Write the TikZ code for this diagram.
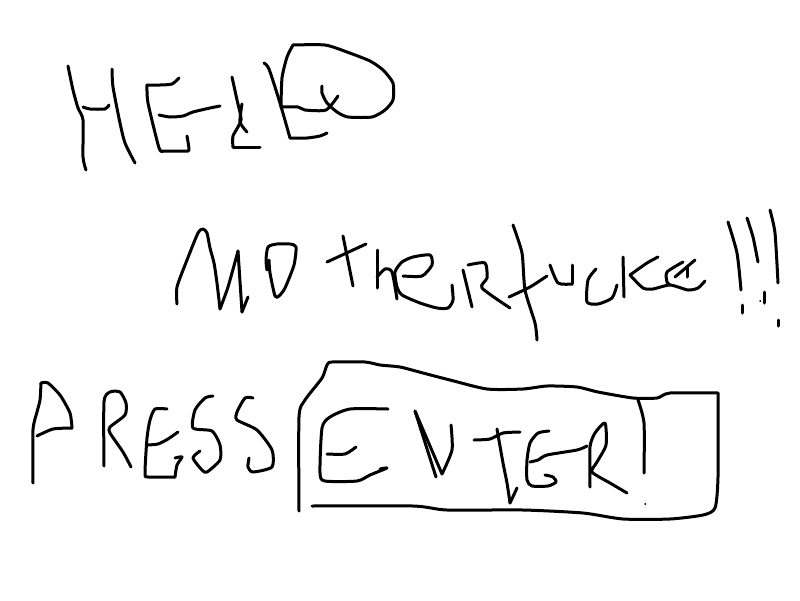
\documentclass[tikz,border=0pt]{standalone}
\tikzset{ink/.style={draw=black,line width=3pt,line cap=round,line join=round},
speck/.style={draw=black,line width=1.4pt,line cap=round}}
\newcommand{\stroke}[1]{\draw[ink] plot[smooth,tension=.4] coordinates {#1};}
\begin{document}
\begin{tikzpicture}[x=1pt,y=-1pt]
\useasboundingbox (0,0) rectangle (800,600);
\fill[white] (0,0) rectangle (800,600);
% HELP
\stroke{(68,66)(73,90)(78,108)(83,120)(83,157)(86,170)}
\stroke{(83,107)(90,109)(105,109)(109,105)}
\stroke{(112,69)(113,87)(120,123)(125,143)(135,163)}
\stroke{(179,78)(172,84)(160,85)(147,85)}
\stroke{(147,85)(148,103)(159,148)(163,151)}
\stroke{(163,151)(185,151)(189,150)(187,136)}
\stroke{(159,115)(170,117)(183,116)(193,112)(210,108)(220,106)}
\stroke{(232,77)(237,100)(241,120)(233,136)(233,147)}
\stroke{(233,147)(260,147)}
\stroke{(242,104)(240,122)(247,132)}
\stroke{(264,63)(269,69)(280,103)(290,138)}
\stroke{(290,138)(307,138)(320,136)(327,133)}
\stroke{(281,107)(282,78)(287,57)(293,45)}
\stroke{(293,45)(325,45)(347,52)(370,61)(383,70)(393,83)(393,100)(385,110)(372,117)(348,117)(337,112)(327,103)(322,93)(322,86)}
\stroke{(281,107)(298,107)(305,110)(326,110)(338,96)}
% Motherfucker
\stroke{(177,304)(177,287)(187,260)(198,233)(203,229)(207,233)(210,248)(214,263)(217,283)(220,309)}
\stroke{(220,309)(228,287)(238,251)}
\stroke{(238,251)(242,312)}
\stroke{(242,312)(248,297)}
\stroke{(267,270)(266,260)(268,247)(277,244)(290,244)(296,247)(294,265)(285,288)(279,296)(275,296)(270,273)(269,260)}
\stroke{(343,236)(353,286)}
\stroke{(327,262)(366,244)}
\stroke{(377,250)(377,288)}
\stroke{(377,277)(385,269)(392,272)(397,299)}
\stroke{(403,276)(422,276)(432,265)(430,255)(413,257)(402,262)(395,272)(397,287)(402,295)(420,303)(437,308)(448,308)(453,300)(452,285)}
\stroke{(463,270)(472,307)}
\stroke{(468,265)(485,263)(487,278)(482,288)(510,308)}
\stroke{(513,225)(522,253)(525,290)(535,323)(537,340)}
\stroke{(509,297)(530,287)(547,276)}
\stroke{(550,265)(558,283)(572,284)}
\stroke{(572,284)(572,265)}
\stroke{(596,269)(588,280)(587,302)(598,304)(612,298)(617,285)}
\stroke{(623,257)(624,297)}
\stroke{(658,257)(647,263)(630,275)}
\stroke{(630,275)(643,288)(653,289)(670,285)(688,290)(698,288)(705,281)}
\stroke{(683,262)(667,272)(667,282)(670,285)}
\stroke{(675,277)(695,260)}
\stroke{(687,267)(687,277)}
\stroke{(728,222)(737,253)(741,290)}
\stroke{(742,305)(742,313)}
\stroke{(747,218)(753,237)(758,262)}
\stroke{(764,292)(764,303)}
\draw[speck] (760,301)--(760.5,301);
\stroke{(770,210)(775,233)(778,283)}
\stroke{(778,320)(778,326)}
% PRESS
\stroke{(33,483)(33,430)(37,412)(40,400)(41,383)}
\stroke{(41,383)(48,383)(60,395)(70,413)(72,428)}
\stroke{(72,428)(53,429)(37,436)}
\stroke{(104,466)(104,402)(110,392)(120,392)(126,403)(125,415)(110,427)(110,433)(123,452)(131,467)}
\stroke{(167,409)(155,409)(150,420)(147,438)(145,473)(148,477)(175,477)}
\stroke{(175,477)(177,465)(182,457)(175,458)}
\stroke{(147,445)(158,444)(168,439)(178,432)}
\stroke{(213,396)(205,398)(195,410)(193,428)(212,431)(220,445)(220,460)(207,472)(202,470)(193,458)(200,451)}
\stroke{(253,398)(245,398)(237,412)(237,420)(257,430)(272,450)(272,467)(253,472)(248,467)(249,458)}
% Box
\stroke{(299,511)(299,417)(305,400)(322,378)(327,365)(332,362)(365,362)(380,365)(400,367)(423,373)(450,380)(487,389)(523,389)(547,386)(577,387)(598,392)(633,398)(657,398)(670,393)(718,393)}
\stroke{(718,393)(718,477)(715,508)(703,515)(670,519)(623,519)(583,513)(523,510)(447,510)(413,506)(312,506)}
% ENTER!
\stroke{(388,409)(350,409)(330,417)(322,428)(320,473)(325,481)(357,481)(370,475)(387,468)(380,469)}
\stroke{(327,454)(345,454)(356,447)}
\stroke{(415,411)(436,477)}
\stroke{(415,411)(442,474)}
\stroke{(442,474)(452,450)(451,425)}
\stroke{(474,440)(490,439)(503,433)(520,432)}
\stroke{(497,429)(503,463)(507,483)(510,503)}
\stroke{(510,503)(517,488)}
\stroke{(549,431)(538,433)(530,443)(527,460)(527,480)(532,486)(548,486)(556,482)(553,477)(545,475)}
\stroke{(530,462)(538,460)(547,455)(577,450)(587,446)}
\stroke{(590,487)(590,447)(595,433)(605,423)(606,445)(597,462)(592,472)(610,483)(627,493)}
\stroke{(638,400)(644,423)(644,473)}
\draw[speck] (645,504)--(645.5,504);
\end{tikzpicture}
\end{document}
